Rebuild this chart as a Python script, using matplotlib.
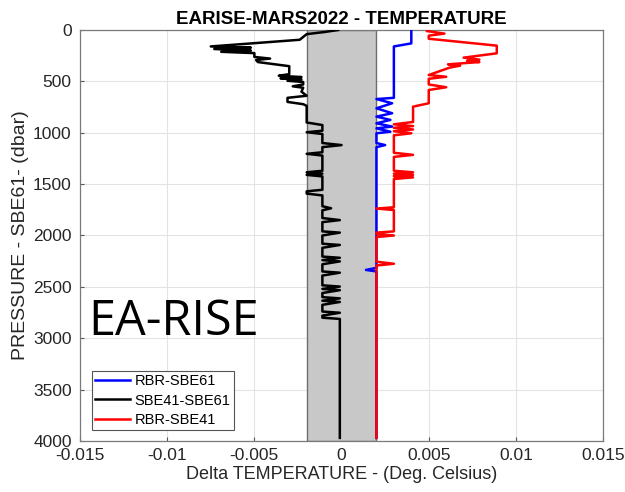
import matplotlib.pyplot as plt
from matplotlib.patches import Rectangle
import numpy as np

plt.rcParams['font.family'] = ['Liberation Sans', 'DejaVu Sans']

# profile vertices: pressure (dbar) and temperature difference (deg C)
p_rbr_sbe61 = [0, 130, 160, 660, 672, 713, 762, 810, 843, 875, 908, 940, 957, 990,
               1005, 1100, 1120, 1140, 2315, 2335, 2350, 3970]
dt_rbr_sbe61 = [0.0040, 0.0040, 0.0030, 0.0030, 0.0020, 0.0029, 0.0020, 0.0029, 0.0020,
                0.0028, 0.0020, 0.0029, 0.0020, 0.0028, 0.0020, 0.0020, 0.0025, 0.0020,
                0.0020, 0.0014, 0.0020, 0.0020]

p_sbe41_sbe61 = [0, 20, 40, 95, 160, 172, 185, 200, 212, 225, 262, 278, 292, 312, 352,
                 430, 445, 458, 470, 482, 494, 506, 530, 548, 562, 600, 640, 660, 700,
                 722, 738, 900, 925, 980, 995, 1012, 1100, 1120, 1140, 1190, 1205, 1222,
                 1370, 1385, 1398, 1410, 1425, 1555, 1570, 1592, 1610, 1715, 1735, 1755,
                 1830, 1850, 1870, 1960, 1972, 2000, 2080, 2092, 2120, 2205, 2217, 2240,
                 2252, 2280, 2350, 2362, 2390, 2485, 2497, 2520, 2532, 2560, 2600, 2612,
                 2635, 2647, 2675, 2740, 2752, 2780, 2800, 2812, 3970]
dt_sbe41_sbe61 = [-0.0002, -0.0010, -0.0020, -0.0024, -0.0075, -0.0052, -0.0073, -0.0052,
                  -0.0069, -0.0050, -0.0050, -0.0041, -0.0049, -0.0048, -0.0030,
                  -0.0030, -0.0036, -0.0023, -0.0035, -0.0023, -0.0031, -0.0022, -0.0022,
                  -0.0028, -0.0022, -0.0023, -0.0020, -0.0031, -0.0031, -0.0022, -0.0020,
                  -0.0020, -0.0011, -0.0011, -0.0020, -0.0011, -0.0011, 0.0000, -0.0011,
                  -0.0011, -0.0020, -0.0011, -0.0011, -0.0020, -0.0011, -0.0020, -0.0011,
                  -0.0011, -0.0020, -0.0020, -0.0011, -0.0011, -0.0006, -0.0011, -0.0011,
                  -0.0001, -0.0011, -0.0011, -0.0001, -0.0011, -0.0011, -0.0001, -0.0011,
                  -0.0011, -0.0001, -0.0011, -0.0001, -0.0011, -0.0011, -0.0001, -0.0011,
                  -0.0011, -0.0001, -0.0011, -0.0001, -0.0011, -0.0011, -0.0001, -0.0011,
                  -0.0001, -0.0011, -0.0011, -0.0001, -0.0011, -0.0011, -0.0001, -0.0001]

p_rbr_sbe41 = [10, 35, 55, 85, 152, 227, 269, 288, 300, 312, 334, 347, 366, 438, 455,
               475, 530, 557, 584, 713, 746, 895, 918, 935, 952, 968, 985, 1005, 1025,
               1195, 1215, 1235, 1370, 1385, 1398, 1410, 1422, 1434, 1450, 1725, 1738,
               1752, 1960, 1972, 1985, 2000, 2015, 2255, 2275, 2292, 3970]
dt_rbr_sbe41 = [0.0049, 0.0059, 0.0050, 0.0050, 0.0089, 0.0089, 0.0070, 0.0079, 0.0072,
                0.0079, 0.0061, 0.0068, 0.0062, 0.0050, 0.0060, 0.0050, 0.0050, 0.0060,
                0.0050, 0.0050, 0.0041, 0.0041, 0.0030, 0.0041, 0.0030, 0.0041, 0.0030,
                0.0040, 0.0030, 0.0030, 0.0041, 0.0030, 0.0030, 0.0041, 0.0030, 0.0041,
                0.0030, 0.0041, 0.0030, 0.0030, 0.0020, 0.0030, 0.0030, 0.0020, 0.0020,
                0.0030, 0.0020, 0.0020, 0.0030, 0.0020, 0.0020]

# +/- 0.002 accuracy band
band = 0.002

fig = plt.figure(figsize=(6.25, 4.92), dpi=100)
ax = fig.add_axes([0.128, 0.1037, 0.837, 0.8353])

ax.add_patch(Rectangle((-band, 0), 2 * band, 4000, facecolor='#c8c8c8',
                       edgecolor='#6e6e6e', linewidth=1, zorder=1))

ax.plot(dt_rbr_sbe61, p_rbr_sbe61, color='#0000ff', lw=1.8, label='RBR-SBE61', zorder=3)
ax.plot(dt_sbe41_sbe61, p_sbe41_sbe61, color='black', lw=1.8, label='SBE41-SBE61', zorder=3)
ax.plot(dt_rbr_sbe41, p_rbr_sbe41, color='#ff0000', lw=1.8, label='RBR-SBE41', zorder=3)

ax.set_xlim(-0.015, 0.015)
ax.set_ylim(4000, 0)
ax.set_xticks(np.arange(-0.015, 0.0151, 0.005))
ax.set_xticklabels(['-0.015', '-0.01', '-0.005', '0', '0.005', '0.01', '0.015'])
ax.set_yticks(np.arange(0, 4001, 500))
ax.grid(True, color='#e3e3e3', linewidth=0.8, zorder=0)
ax.set_axisbelow(True)
ax.tick_params(direction='in', length=3, labelsize=12.5, color='#555555', labelcolor='#262626')
ax.tick_params(axis='x', pad=5)
ax.tick_params(axis='y', pad=6)
for s in ax.spines.values():
    s.set_color('#7a7a7a')
    s.set_linewidth(0.9)

ax.set_title('EARISE-MARS2022 - TEMPERATURE', fontsize=13.5, fontweight='bold', pad=4)
ax.set_xlabel('Delta TEMPERATURE - (Deg. Celsius)', fontsize=13, color='#262626', labelpad=2)
ax.set_ylabel('PRESSURE - SBE61- (dbar)', fontsize=14, color='#262626', labelpad=3)

leg = ax.legend(loc='lower left', bbox_to_anchor=(0.022, 0.026), fontsize=10.5,
                handlelength=2.4, handletextpad=0.3, borderpad=0.25, labelspacing=0.35,
                borderaxespad=0, fancybox=False, framealpha=1, edgecolor='#555555')
leg.get_frame().set_linewidth(0.8)

fig.text(0.142, 0.32, 'EA-RISE', fontsize=35, family='Open Sans', color='black')

fig.savefig('out.png', dpi=100)
